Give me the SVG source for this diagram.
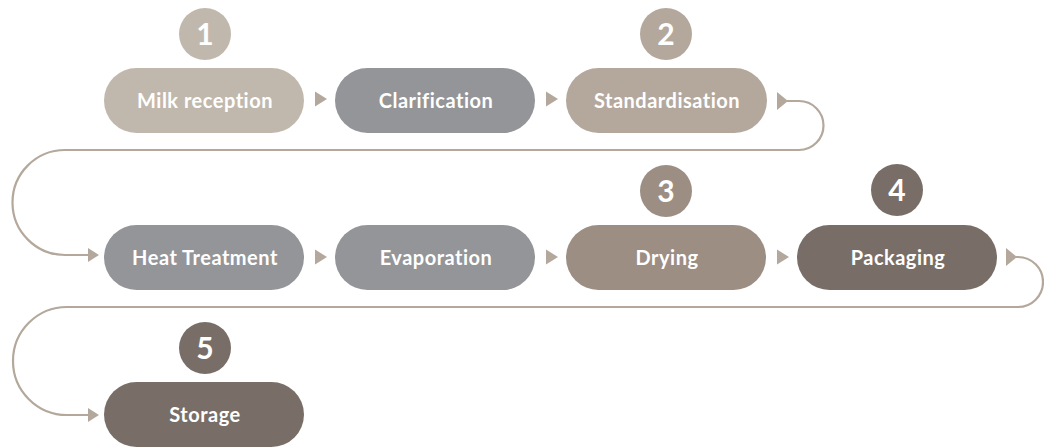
<svg xmlns="http://www.w3.org/2000/svg" width="1044" height="448" viewBox="0 0 1044 448">
<style>
.pill{stroke:none}
.lbl{font-family:Lato,"Open Sans","Liberation Sans",sans-serif;font-weight:700;font-size:20px;letter-spacing:0.5px;fill:#ffffff;text-anchor:middle}
.num{font-family:Lato,"Open Sans","Liberation Sans",sans-serif;font-weight:700;font-size:30px;fill:#ffffff;text-anchor:middle}
.line{fill:none;stroke:#b3a89b;stroke-width:2.2}
.tri{fill:#b3a89b}
.c1{fill:#c1b8ad}.c2{fill:#b4a89d}.c3{fill:#9c8e83}.c4{fill:#786e67}.cg{fill:#939598}
</style>
<rect width="1044" height="448" fill="#ffffff"/>
<g id="connectors">
<polygon class="tri" points="315,91.5 327,99 315,106.5"/>
<polygon class="tri" points="546,91.5 558,99 546,106.5"/>
<polygon class="tri" points="315,249.5 327,257 315,264.5"/>
<polygon class="tri" points="546,249.5 558,257 546,264.5"/>
<polygon class="tri" points="777,249.5 789,257 777,264.5"/>
<polygon class="tri" points="777,92 788,101 777,110"/>
<path class="line" d="M787,101 H799 A24.5,24.5 0 0 1 799,150 H65 A52.5,52.5 0 0 0 65,255 H89"/>
<polygon class="tri" points="88,248 99,255 88,262"/>
<polygon class="tri" points="1006,248 1017,257 1006,266"/>
<path class="line" d="M1016,257 H1018 A25,25 0 0 1 1018,307 H67 A54,54 0 0 0 67,415 H89"/>
<polygon class="tri" points="88,408 99,415 88,422"/>
</g>
<g id="node-milk-reception">
<rect class="pill c1" x="104" y="68" width="200" height="65" rx="32.5"/>
<text class="lbl" x="205" y="108">Milk reception</text>
</g>
<g id="node-clarification">
<rect class="pill cg" x="335" y="68" width="200" height="65" rx="32.5"/>
<text class="lbl" x="436" y="108">Clarification</text>
</g>
<g id="node-standardisation">
<rect class="pill c2" x="566" y="68" width="201" height="65" rx="32.5"/>
<text class="lbl" x="667" y="108">Standardisation</text>
</g>
<g id="node-heat-treatment">
<rect class="pill cg" x="104" y="225" width="200" height="65" rx="32.5"/>
<text class="lbl" x="205" y="264.7">Heat Treatment</text>
</g>
<g id="node-evaporation">
<rect class="pill cg" x="335" y="225" width="200" height="65" rx="32.5"/>
<text class="lbl" x="436" y="264.7">Evaporation</text>
</g>
<g id="node-drying">
<rect class="pill c3" x="566" y="225" width="200" height="65" rx="32.5"/>
<text class="lbl" x="667" y="264.7">Drying</text>
</g>
<g id="node-packaging">
<rect class="pill c4" x="797" y="225" width="200" height="65" rx="32.5"/>
<text class="lbl" x="898" y="264.7">Packaging</text>
</g>
<g id="node-storage">
<rect class="pill c4" x="104" y="382" width="200" height="65" rx="32.5"/>
<text class="lbl" x="205" y="421.5">Storage</text>
</g>
<g id="badge-1"><circle class="c1" cx="205" cy="34" r="26"/><text class="num" x="205" y="45">1</text></g>
<g id="badge-2"><circle class="c2" cx="666" cy="34" r="26"/><text class="num" x="666" y="45">2</text></g>
<g id="badge-3"><circle class="c3" cx="666" cy="191" r="26"/><text class="num" x="666" y="202">3</text></g>
<g id="badge-4"><circle class="c4" cx="897" cy="190" r="26"/><text class="num" x="897" y="201">4</text></g>
<g id="badge-5"><circle class="c4" cx="205" cy="348" r="26"/><text class="num" x="205" y="359">5</text></g>
</svg>
